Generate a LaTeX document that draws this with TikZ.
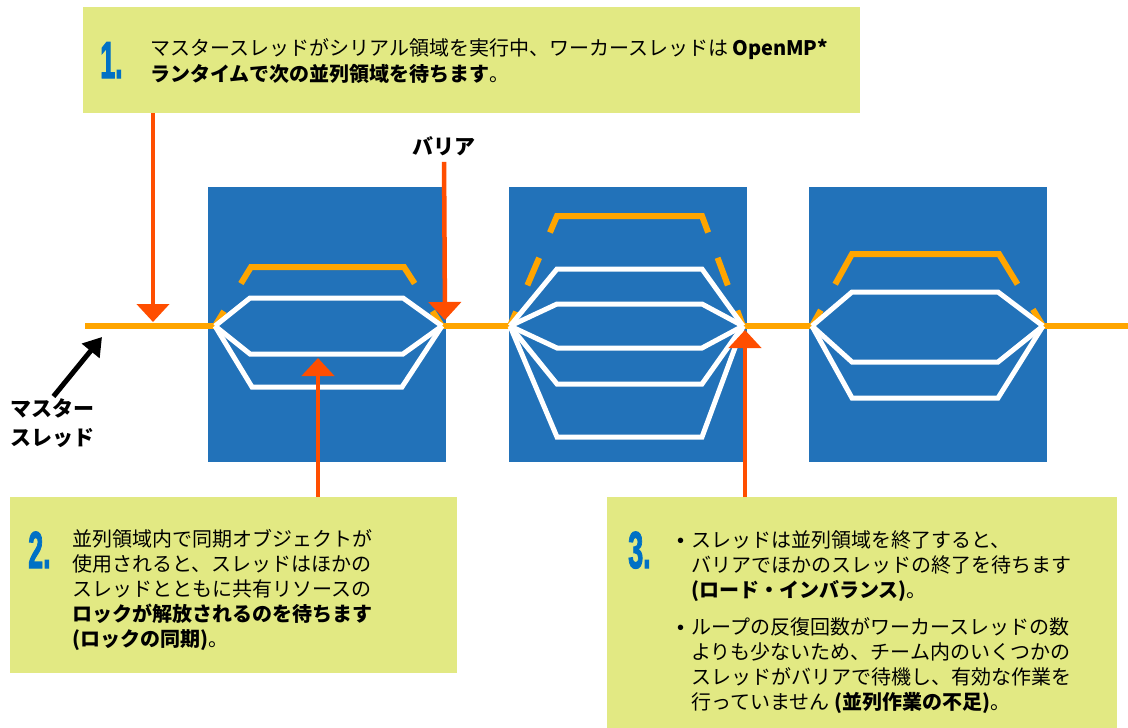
\documentclass[tikz,border=0pt]{standalone}
\usepackage{fontspec}
\setmainfont{Noto Sans CJK JP}
\newfontfamily\numfont{Liberation Sans}[BoldFeatures={FakeBold=2.5}]
\usetikzlibrary{arrows.meta,calc}
\definecolor{boxy}{HTML}{E2E983}
\definecolor{rblue}{HTML}{2272B9}
\definecolor{othr}{HTML}{FFA500}
\definecolor{rarr}{HTML}{FF4E00}
\definecolor{nblue}{HTML}{0071C5}
\begin{document}
\begin{tikzpicture}[x=1pt,y=-1pt,
  note/.style={fill=boxy,draw=none,inner sep=0pt,anchor=north west},
  region/.style={fill=rblue,draw=none,inner sep=0pt,anchor=north west,minimum width=238pt,minimum height=275pt},
  master/.style={draw=othr,line width=6pt},
  worker/.style={draw=white,line width=5pt,line join=miter},
  callout/.style={draw=rarr,line width=4.5pt,-{Triangle[width=32pt,length=18pt]}},
  txt/.style={inner sep=0pt,anchor=north west,align=left,font=\fontsize{20}{25}\selectfont},
  num/.style={inner sep=0pt,anchor=base west,text=nblue,font=\numfont\bfseries\fontsize{52}{52}\selectfont},
  lbl/.style={inner sep=0pt,align=left,font=\bfseries\fontsize{21}{29}\selectfont}
]
\useasboundingbox (0,0) rectangle (1128,728);
\fill[white] (0,0) rectangle (1128,728);

% note boxes
\node[note,minimum width=777pt,minimum height=106pt] (b1) at (83,7) {};
\node[note,minimum width=447pt,minimum height=176pt] (b2) at (10,497) {};
\node[note,minimum width=510pt,minimum height=231pt] (b3) at (607,497) {};

% parallel regions
\node[region] (r1) at (208,187) {};
\node[region] (r2) at (509,187) {};
\node[region] (r3) at (809,187) {};

% fork / join points
\coordinate (f1) at (215,326); \coordinate (j1) at (442,326);
\coordinate (f2) at (510,326); \coordinate (j2) at (743,326);
\coordinate (f3) at (812,326); \coordinate (j3) at (1043,326);
\coordinate (s0) at (85,326);  \coordinate (e0) at (1128,326);

% master thread horizontal parts
\draw[master] (s0) -- (f1);
\draw[master] (j1) -- (f2);
\draw[master] (j2) -- (f3);
\draw[master] (j3) -- (e0);

% master thread inside region 1
\coordinate (a1) at (251,267); \coordinate (c1) at (404,267);
\draw[master] (f1) -- ($(f1)!0.25!(a1)$);
\draw[master] ($(f1)!0.72!(a1)$) -- (a1) -- (c1) -- ($(c1)!0.28!(j1)$);
\draw[master] ($(c1)!0.75!(j1)$) -- (j1);
% region 2
\coordinate (a2) at (557,216); \coordinate (c2) at (702,216);
\draw[master] (f2) -- ($(f2)!0.13!(a2)$);
\draw[master] ($(f2)!0.37!(a2)$) -- ($(f2)!0.62!(a2)$);
\draw[master] ($(f2)!0.85!(a2)$) -- (a2) -- (c2) -- ($(c2)!0.15!(j2)$);
\draw[master] ($(c2)!0.38!(j2)$) -- ($(c2)!0.63!(j2)$);
\draw[master] ($(c2)!0.86!(j2)$) -- (j2);
% region 3
\coordinate (a3) at (852,254); \coordinate (c3) at (999,254);
\draw[master] (f3) -- ($(f3)!0.22!(a3)$);
\draw[master] ($(f3)!0.58!(a3)$) -- (a3) -- (c3) -- ($(c3)!0.42!(j3)$);
\draw[master] ($(c3)!0.77!(j3)$) -- (j3);

% worker threads
\draw[worker] (f1) -- (250,298) -- (403,298) -- (j1);
\draw[worker] (f1) -- (250,354) -- (403,354) -- (j1);
\draw[worker] (f1) -- (252,387) -- (402,387) -- (j1);

\draw[worker] (f2) -- (557,269) -- (702,269) -- (j2);
\draw[worker] (f2) -- (557,304) -- (702,304) -- (j2);
\draw[worker] (f2) -- (557,348) -- (702,348) -- (j2);
\draw[worker] (f2) -- (557,384) -- (702,384) -- (j2);
\draw[worker] (f2) -- (557,437) -- (702,437) -- (j2);

\draw[worker] (f3) -- (852,292) -- (998,292) -- (j3);
\draw[worker] (f3) -- (852,362) -- (998,362) -- (j3);
\draw[worker] (f3) -- (852,398) -- (998,398) -- (j3);

% labels
\node[lbl,anchor=north] (bar) at (444,136) {バリア};
\node[lbl,anchor=north west] (ml) at (10,398) {マスター\\スレッド};

% callout arrows
\coordinate (t1) at (153,322);
\coordinate (tb) at (445,320);
\coordinate (t2) at (318,358);
\coordinate (t3) at (745,330);
\coordinate (mt) at (102,337);
\draw[callout] (b1.south -| t1) -- (t1);
\draw[callout,shorten <=6pt] (bar.south) -- (tb);
\draw[callout] (b2.north -| t2) -- (t2);
\draw[callout] (b3.north -| t3) -- (t3);
\draw[black,line width=5pt,-{Triangle[width=22pt,length=18pt]},shorten <=2pt] (ml.north) -- (mt);

% numbers
\node[num] (n1) at (100,78) {\scalebox{0.52}[1]{1.}};
\node[num] (n2) at (28,568) {\scalebox{0.52}[1]{2.}};
\node[num] (n3) at (628,568) {\scalebox{0.52}[1]{3.}};

% texts
\node[txt,font=\fontsize{20}{26}\selectfont] (x1) at (150,38)
  {マスタースレッドがシリアル領域を実行中、ワーカースレッドは \textbf{OpenMP*}\\
   \textbf{ランタイムで次の並列領域を待ちます}。};
\node[txt] (x2) at (72,529)
  {並列領域内で同期オブジェクトが\\
   使用されると、スレッドはほかの\\
   スレッドとともに共有リソースの\\
   \textbf{ロックが解放されるのを待ちます}\\
   \textbf{(ロックの同期)}。};
\node[txt] (x3) at (691,530)
  {\llap{\numfont •\hspace{7pt}}スレッドは並列領域を終了すると、\\
   バリアでほかのスレッドの終了を待ちます\\
   \textbf{(ロード・インバランス)}。};
\node[txt] (x4) at (691,617)
  {\llap{\numfont •\hspace{7pt}}ループの反復回数がワーカースレッドの数\\
   よりも少ないため、チーム内のいくつかの\\
   スレッドがバリアで待機し、有効な作業を\\
   行っていません \textbf{(並列作業の不足)}。};
\end{tikzpicture}
\end{document}
